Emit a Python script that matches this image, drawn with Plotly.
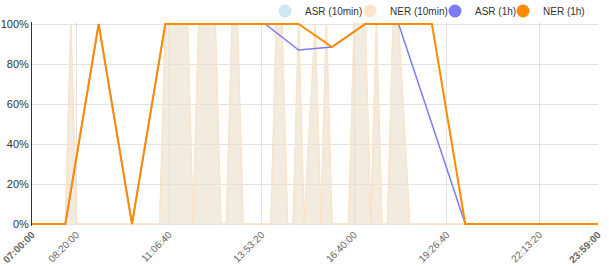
import plotly.graph_objects as go
import pandas as pd

DAY = "2024-01-01"

# 10-minute series (07:00 .. 23:50), one row per hour
ten_min_values = [
    0, 0, 0, 0, 0, 0,          # 07
    0, 100, 0, 0, 0, 0,        # 08
    0, 0, 0, 0, 0, 0,          # 09
    0, 0, 0, 0, 0, 0,          # 10
    100, 100, 100, 100, 100, 0,  # 11
    100, 100, 100, 100, 0, 0,  # 12
    100, 100, 0, 0, 0, 0,      # 13
    0, 0, 100, 100, 0, 0,      # 14
    100, 0, 50, 100, 0, 100,   # 15
    0, 0, 0, 0, 100, 100,      # 16
    100, 0, 100, 0, 0, 100,    # 17
    100, 50, 0, 0, 0, 0,       # 18
    0, 0, 0, 0, 0, 0,          # 19
    0, 0, 0, 0, 0, 0,          # 20
    0, 0, 0, 0, 0, 0,          # 21
    0, 0, 0, 0, 0, 0,          # 22
    0, 0, 0, 0, 0, 0,          # 23
]
asr_10min = ten_min_values
ner_10min = ten_min_values
ten_min_times = pd.date_range(f"{DAY} 07:00:00", periods=len(ten_min_values), freq="10min")

# hourly series
hour_times = ["07:00:00", "08:00:00", "09:00:00", "10:00:00", "11:00:00", "12:00:00",
              "13:00:00", "14:00:00", "15:00:00", "16:00:00", "17:00:00", "18:00:00",
              "19:00:00", "20:00:00", "21:00:00", "22:00:00", "23:00:00", "23:59:00"]
asr_1h = [0, 0, 100, 0, 100, 100, 100, 100, 87, 88.5, 100, 100, 50, 0, 0, 0, 0, 0]
ner_1h = [0, 0, 100, 0, 100, 100, 100, 100, 100, 88.5, 100, 100, 100, 0, 0, 0, 0, 0]

tick_times = ["07:00:00", "08:20:00", "11:06:40", "13:53:20", "16:40:00",
              "19:26:40", "22:13:20", "23:59:00"]
tick_labels = ["<b>07:00:00</b>", "08:20:00", "11:06:40", "13:53:20", "16:40:00",
               "19:26:40", "22:13:20", "<b>23:59:00</b>"]
y_ticks = [0, 20, 40, 60, 80, 100]
y_labels = ["0%", "20%", "40%", "60%", "80%", "100%"]

series_names = ["ASR (10min)", "NER (10min)", "ASR (1h)", "NER (1h)"]
series_colors = ["#CDE8F2", "#FDE5CC", "#7B7BF8", "#FF8C00"]

hx = [f"{DAY} {t}" for t in hour_times]

fig = go.Figure()
fig.add_trace(go.Scatter(x=ten_min_times, y=asr_10min, mode="lines", fill="tozeroy",
                         line=dict(color="rgba(173,216,230,0.6)", width=1),
                         fillcolor="rgba(173,216,230,0.3)", showlegend=False,
                         hoverinfo="skip"))
fig.add_trace(go.Scatter(x=ten_min_times, y=ner_10min, mode="lines", fill="tozeroy",
                         line=dict(color="rgba(253,228,200,1)", width=1.5),
                         fillcolor="rgba(253,228,200,0.5)", showlegend=False,
                         hoverinfo="skip"))
fig.add_trace(go.Scatter(x=hx, y=asr_1h, mode="lines",
                         line=dict(color="#7B7BF8", width=1.5), showlegend=False))
fig.add_trace(go.Scatter(x=hx, y=ner_1h, mode="lines",
                         line=dict(color="#FF8C00", width=2), showlegend=False))

legend_keys = ["legend", "legend2", "legend3", "legend4"]
legend_left_px = [265, 350, 435, 503]
for name, col, key in zip(series_names, series_colors, legend_keys):
    fig.add_trace(go.Scatter(x=[None], y=[None], mode="markers", name=name,
                             marker=dict(color=col, size=13, symbol="circle"),
                             legend=key))

legend_common = dict(orientation="h", xref="container", xanchor="left",
                     y=1 - 11 / 268, yref="container", yanchor="middle",
                     font=dict(size=10, color="#333"), itemsizing="trace",
                     bgcolor="rgba(0,0,0,0)", borderwidth=0)

fig.update_layout(
    width=609, height=268,
    margin=dict(l=32, r=11, t=22, b=42, autoexpand=False),
    paper_bgcolor="white", plot_bgcolor="white",
    font=dict(family="Liberation Sans, Arial, sans-serif", size=11, color="#333"),
    xaxis=dict(type="date", range=[f"{DAY} 07:00:00", f"{DAY} 23:59:00"],
               tickvals=[f"{DAY} {t}" for t in tick_times], ticktext=tick_labels,
               tickangle=-45, tickfont=dict(size=10, color="#666"),
               showgrid=True, gridcolor="#E3E3E3", gridwidth=1,
               zeroline=False, showline=False, ticks=""),
    yaxis=dict(range=[-1, 101], tickvals=y_ticks, ticktext=y_labels,
               tickfont=dict(size=11, color="#333"),
               showgrid=True, gridcolor="#E3E3E3", gridwidth=1,
               zeroline=False, showline=True, linecolor="#333", linewidth=1, ticks=""),
    hovermode=False,
)
for key, left in zip(legend_keys, legend_left_px):
    fig.update_layout({key: dict(legend_common, x=left / 609)})

fig.write_html("out.html")
